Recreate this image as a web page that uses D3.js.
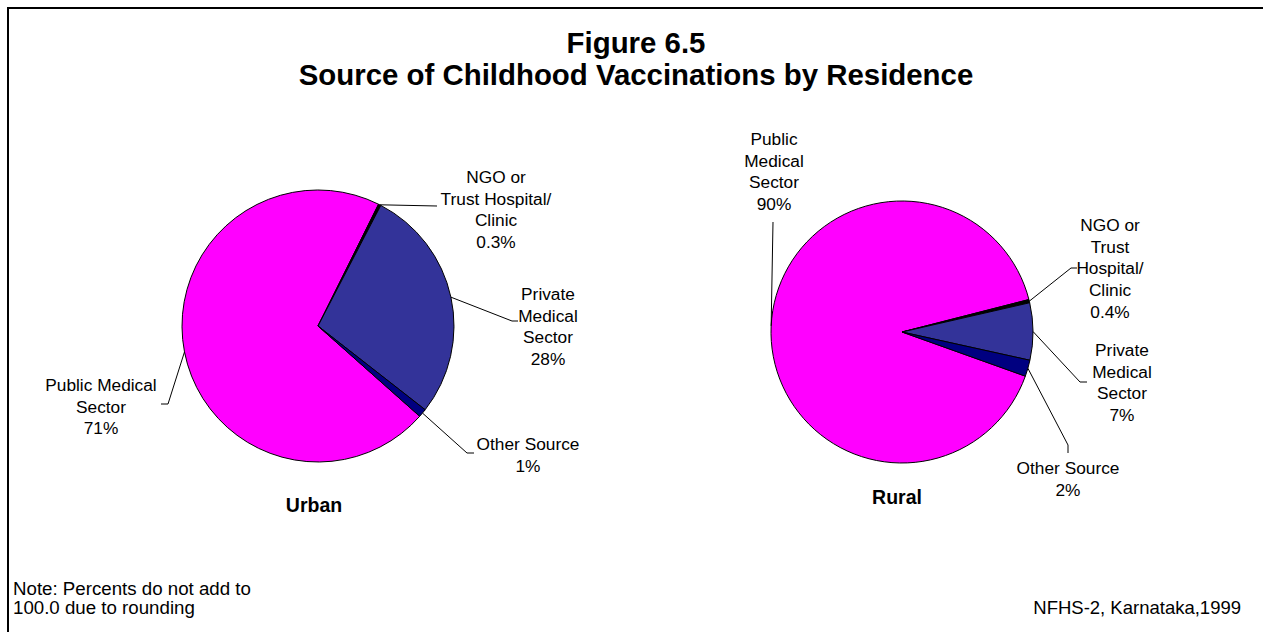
<!DOCTYPE html>
<html>
<head>
<meta charset="utf-8">
<script src="https://cdn.jsdelivr.net/npm/d3@7"></script>
<style>
  html, body { margin: 0; padding: 0; background: #fff; }
  svg { display: block; }
  text { font-family: "Liberation Sans", Arial, sans-serif; fill: #000; }
</style>
</head>
<body>
<svg id="chart" width="1263" height="632"></svg>
<script>
// ---------- data ----------
const categories = ["Public Medical Sector", "NGO or Trust Hospital/Clinic", "Private Medical Sector", "Other Source"];
const urbanValues = [71, 0.3, 28, 1];
const ruralValues = [90, 0.4, 7, 2];
const sliceColors = ["#FF00FF", "#000000", "#333399", "#000080"];
const titleLines = ["Figure 6.5", "Source of Childhood Vaccinations by Residence"];
const urbanLabelLines = [["Public Medical", "Sector", "71%"], ["NGO or", "Trust Hospital/", "Clinic", "0.3%"], ["Private", "Medical", "Sector", "28%"], ["Other Source", "1%"]];
const ruralLabelLines = [["Public", "Medical", "Sector", "90%"], ["NGO or", "Trust", "Hospital/", "Clinic", "0.4%"], ["Private", "Medical", "Sector", "7%"], ["Other Source", "2%"]];
const noteLines = ["Note: Percents do not add to", "100.0 due to rounding"];
const sourceText = "NFHS-2, Karnataka,1999";

// ---------- layout ----------
const svg = d3.select("#chart");
const deg = Math.PI / 180;

// frame (top & left visible)
svg.append("path").attr("d", "M8,640 L8,8 L1275,8").attr("fill", "none").attr("stroke", "#000").attr("stroke-width", 2);

// title
svg.append("text").attr("x", 636).attr("y", 53).attr("text-anchor", "middle")
  .attr("font-size", 29.4).attr("font-weight", "bold").text(titleLines[0]);
svg.append("text").attr("x", 636).attr("y", 85).attr("text-anchor", "middle")
  .attr("font-size", 29.4).attr("font-weight", "bold").text(titleLines[1]);

const pies = [
  { values: urbanValues, cx: 318, cy: 326, r: 136, start: 131.6, name: "Urban", nameX: 314, nameY: 512,
    lines: urbanLabelLines,
    labels: [ {x: 101, y: 391, elbow: [[168, 404], [161, 404]]},
              {x: 496, y: 183, elbow: [[437, 206]]},
              {x: 548, y: 300, elbow: [[512, 321], [518, 321]]},
              {x: 528, y: 450, elbow: [[467, 453], [474, 453]]} ] },
  { values: ruralValues, cx: 902, cy: 332, r: 131, start: 109.7, name: "Rural", nameX: 897, nameY: 504,
    lines: ruralLabelLines,
    labels: [ {x: 774, y: 145, elbow: [[773, 222]]},
              {x: 1110, y: 231, elbow: [[1071, 268], [1077, 268]]},
              {x: 1122, y: 356, elbow: [[1080, 382], [1087, 382]]},
              {x: 1068, y: 474, elbow: [[1068, 445], [1068, 453]]} ] }
];

const lineH = 21.7;

pies.forEach(p => {
  const pie = d3.pie().sort(null).value(d => d)
    .startAngle(p.start * deg).endAngle(p.start * deg + 2 * Math.PI);
  const arcs = pie(p.values);
  const arc = d3.arc().innerRadius(0).outerRadius(p.r);
  const g = svg.append("g").attr("transform", `translate(${p.cx},${p.cy})`);
  g.selectAll("path").data(arcs).join("path")
    .attr("d", arc)
    .attr("fill", (d, i) => sliceColors[i])
    .attr("stroke", "#000").attr("stroke-width", 1).attr("stroke-linejoin", "round");

  // leader lines
  arcs.forEach((a, i) => {
    const mid = (a.startAngle + a.endAngle) / 2;
    const sx = p.cx + p.r * Math.sin(mid), sy = p.cy - p.r * Math.cos(mid);
    const pts = [[sx, sy]].concat(p.labels[i].elbow);
    svg.append("path").attr("d", d3.line()(pts)).attr("fill", "none")
      .attr("stroke", "#000").attr("stroke-width", 1);
    const t = svg.append("text").attr("text-anchor", "middle").attr("font-size", 17.3);
    p.lines[i].forEach((ln, k) => {
      t.append("tspan").attr("x", p.labels[i].x).attr("y", p.labels[i].y + k * lineH).text(ln);
    });
  });

  svg.append("text").attr("x", p.nameX).attr("y", p.nameY).attr("text-anchor", "middle")
    .attr("font-size", 19.5).attr("font-weight", "bold").text(p.name);
});

// note & source
noteLines.forEach((ln, k) => {
  svg.append("text").attr("x", 13).attr("y", 595 + k * 18.5).attr("font-size", 18.7).text(ln);
});
svg.append("text").attr("x", 1241).attr("y", 613.5).attr("text-anchor", "end").attr("font-size", 18.5).text(sourceText);
</script>
</body>
</html>
